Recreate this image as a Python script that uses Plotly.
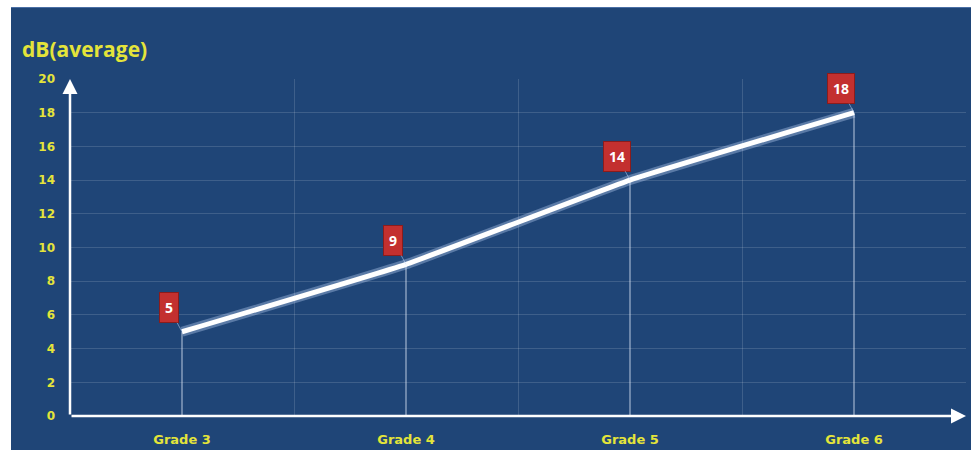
import plotly.graph_objects as go

categories = ["Grade 3", "Grade 4", "Grade 5", "Grade 6"]
values = [5, 9, 14, 18]
y_ticks = [0, 2, 4, 6, 8, 10, 12, 14, 16, 18, 20]
y_title = "dB(average)"

x = list(range(len(categories)))
yellow = "#e4e43a"
panel = "#1f4577"

fig = go.Figure()

# drop lines from each point to zero
drop_x, drop_y = [], []
for xi, v in zip(x, values):
    drop_x += [xi, xi, None]
    drop_y += [0, v, None]
fig.add_trace(go.Scatter(x=drop_x, y=drop_y, mode="lines",
                         line=dict(color="rgba(230,240,255,0.65)", width=1.2),
                         hoverinfo="skip", showlegend=False))

# glow + main line
fig.add_trace(go.Scatter(x=x, y=values, mode="lines",
                         line=dict(color="rgba(200,220,255,0.35)", width=10, shape="spline", smoothing=0.3),
                         hoverinfo="skip", showlegend=False))
fig.add_trace(go.Scatter(x=x, y=values, mode="lines",
                         line=dict(color="white", width=5, shape="spline", smoothing=0.3),
                         showlegend=False))

# value labels
for xi, v in zip(x, values):
    fig.add_annotation(x=xi, y=v, text="<b>%d</b>" % v, showarrow=True,
                       arrowhead=0, arrowwidth=1, arrowcolor="rgba(200,220,255,0.5)",
                       ax=-13, ay=-24, bgcolor="#c3302f", bordercolor="#8a1c1c",
                       borderwidth=1, borderpad=5,
                       font=dict(color="white", size=14, family="Open Sans"))

# axes with arrow heads
fig.add_annotation(x=3.5, y=0, ax=-0.5, ay=0, xref="x", yref="y", axref="x", ayref="y",
                   text="", showarrow=True, arrowhead=2, arrowsize=1.2, arrowwidth=2.5,
                   arrowcolor="white")
fig.add_annotation(x=-0.5, y=20, ax=-0.5, ay=0, xref="x", yref="y", axref="x", ayref="y",
                   text="", showarrow=True, arrowhead=2, arrowsize=1.2, arrowwidth=2.5,
                   arrowcolor="white")

# title
fig.add_annotation(text="<b>" + y_title + "</b>", xref="paper", yref="paper",
                   x=-0.056, y=1.09, xanchor="left", yanchor="middle", showarrow=False,
                   font=dict(color=yellow, size=21, family="Open Sans"))

# dark blue panel
fig.add_shape(type="rect", xref="paper", yref="paper", layer="below",
              x0=-59/896, x1=1.2, y0=-0.2, y1=(416-7)/337,
              fillcolor=panel, line=dict(width=0))
fig.add_shape(type="line", xref="paper", yref="paper", layer="below",
              x0=-59/896, x1=1.2, y0=(416-7.5)/337, y1=(416-7.5)/337,
              line=dict(color="#4a6fa5", width=1))

fig.update_layout(
    width=971, height=450,
    margin=dict(l=70, r=5, t=79, b=34),
    paper_bgcolor="white", plot_bgcolor=panel,
    showlegend=False,
    xaxis=dict(range=[-0.5, 3.5], tickvals=x, ticktext=["<b>%s</b>" % c for c in categories],
               showgrid=False, zeroline=False, showline=False, ticks="",
               ticklabelstandoff=14, automargin=False,
               tickfont=dict(color=yellow, size=13, family="DejaVu Sans"),
               minor=dict(tickvals=[-0.5, 0.5, 1.5, 2.5, 3.5], showgrid=True,
                          gridcolor="rgba(255,255,255,0.14)", gridwidth=1, ticks=""),
               fixedrange=True),
    yaxis=dict(range=[0, 20], tickvals=y_ticks, ticktext=["<b>%d</b>" % t for t in y_ticks],
               showgrid=True, gridcolor="rgba(255,255,255,0.14)", gridwidth=1,
               zeroline=False, showline=False, ticks="", ticklabelstandoff=14,
               automargin=False,
               tickfont=dict(color=yellow, size=12, family="DejaVu Sans"),
               fixedrange=True),
)

fig.write_html("out.html")
